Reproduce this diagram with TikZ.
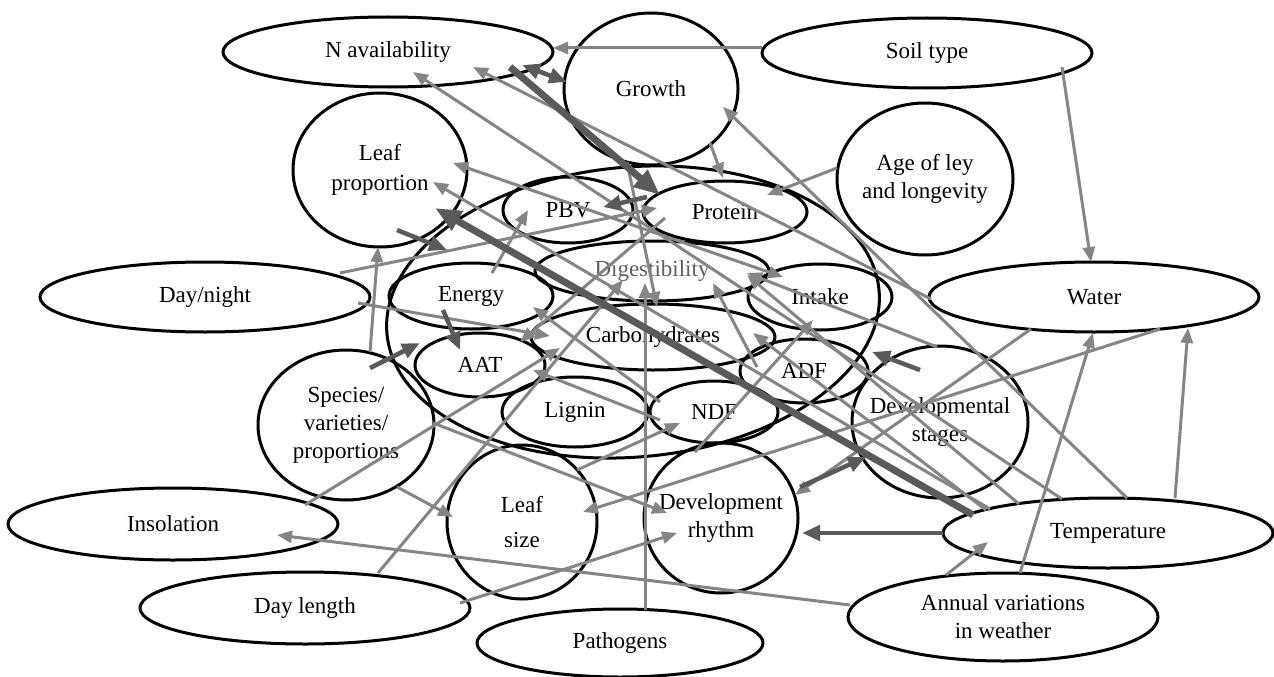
\documentclass[tikz,border=0pt]{standalone}
\usepackage{fontspec}
\setmainfont{Liberation Serif}
\usetikzlibrary{shapes.geometric,arrows.meta,calc}
\definecolor{lg}{RGB}{133,133,133}
\definecolor{dg}{RGB}{90,90,90}
\definecolor{tg}{RGB}{95,95,95}
\begin{document}
\begin{tikzpicture}[x=1pt,y=-1pt,
  el/.style={draw=black,line width=3pt,ellipse,inner sep=-20pt,align=center,font=\fontsize{23}{28}\selectfont},
  la/.style={draw=lg,line width=3pt,-{Triangle[length=15pt,width=12pt]}},
  lb/.style={draw=lg,line width=3pt,{Triangle[length=15pt,width=12pt]}-{Triangle[length=15pt,width=12pt]}},
  da/.style={draw=dg,line width=4.5pt,-{Triangle[length=18pt,width=15pt]}},
  db/.style={draw=dg,line width=4.5pt,{Triangle[length=18pt,width=15pt]}-{Triangle[length=18pt,width=15pt]}},
  ta/.style={draw=dg,line width=7pt,-{Triangle[length=26pt,width=21pt]}}
]
\useasboundingbox (0,0) rectangle (1274,677);
% outer nodes
\node[el,minimum width=330pt,minimum height=70pt] (N) at (388,52) {N availability};
\node[el,minimum width=330pt,minimum height=70pt] (soil) at (927,53) {Soil type};
\node[el,minimum width=174pt,minimum height=152pt] (growth) at (651,89) {\raisebox{-11pt}{Growth}};
\node[el,minimum width=174pt,minimum height=154pt] (lprop) at (380,170) {Leaf\\[2pt]proportion};
\node[el,minimum width=176pt,minimum height=152pt] (age) at (925,179) {Age of ley\\and longevity};
\node[el,minimum width=330pt,minimum height=70pt] (daynight) at (205,297) {Day/night};
\node[el,minimum width=330pt,minimum height=70pt] (water) at (1094,297) {Water};
\node[el,minimum width=176pt,minimum height=150pt] (species) at (346,425) {Species/\\varieties/\\proportions};
\node[el,minimum width=176pt,minimum height=152pt] (devst) at (940,422) {Developmental\\stages};
\node[el,minimum width=150pt,minimum height=154pt] (lsize) at (522,522) {Leaf\\[7pt]size};
\node[el,minimum width=154pt,minimum height=150pt] (devrh) at (721,518) {Development\\rhythm};
\node[el,minimum width=330pt,minimum height=72pt] (insol) at (173,524) {Insolation};
\node[el,minimum width=330pt,minimum height=70pt] (temp) at (1108,533) {Temperature};
\node[el,minimum width=330pt,minimum height=72pt] (dlen) at (305,608) {Day length};
\node[el,minimum width=286pt,minimum height=68pt] (path) at (620,643) {Pathogens};
\node[el,minimum width=310pt,minimum height=88pt] (annual) at (1003,617) {Annual variations\\in weather};
% big quality ellipse and inner nodes
\node[el,minimum width=494pt,minimum height=290pt,rotate=5] (big) at (633,312) {};
\node[el,minimum width=130pt,minimum height=66pt] (pbv) at (568,210) {PBV};
\node[el,minimum width=164pt,minimum height=62pt] (prot) at (725,212) {Protein};
\node[el,minimum width=234pt,minimum height=60pt,text=tg] (dig) at (652,271) {Digestibility};
\node[el,minimum width=164pt,minimum height=66pt] (energy) at (471,296) {Energy};
\node[el,minimum width=144pt,minimum height=66pt] (intake) at (820,297) {Intake};
\node[el,minimum width=244pt,minimum height=66pt] (carb) at (653,337) {Carbohydrates};
\node[el,minimum width=130pt,minimum height=64pt] (aat) at (480,365) {AAT};
\node[el,minimum width=128pt,minimum height=64pt] (adf) at (804,371) {ADF};
\node[el,minimum width=146pt,minimum height=70pt] (lignin) at (575,412) {Lignin};
\node[el,minimum width=128pt,minimum height=62pt] (ndf) at (714,412) {NDF};
% light connectors
\draw[la] ($(soil)+(-165,-5)$) -- ($(N)+(165,-4)$);
\draw[la] ($(soil)+(135,14)$) -- ($(water)+(-3,-35)$);
\draw[la] ($(age)+(-88,-11)$) -- ($(prot)+(42,-17)$);
\draw[la] ($(growth)+(59,54)$) -- ($(prot)+(-2,-34)$);
\draw[la] ($(temp)+(19,-35)$) -- ($(growth)+(72,18)$);
\draw[la] ($(water)+(-163,2)$) -- ($(N)+(85,15)$);
\draw[la] ($(temp)+(-46,-34)$) -- ($(N)+(25,20)$);
\draw[la] ($(species)+(24,-73)$) -- ($(lprop)+(-2,77)$);
\draw[la] ($(daynight)+(135,-24)$) -- ($(prot)+(-68,-4)$);
\draw[la] ($(daynight)+(153,6)$) -- ($(carb)+(-103,-1)$);
\draw[la] ($(energy)+(21,-23)$) -- ($(pbv)+(-40,0)$);
\draw[la] ($(prot)+(-60,6)$) -- ($(aat)+(40,-23)$);
\draw[la] ($(insol)+(132,-19)$) -- ($(carb)+(-93,11)$);
\draw[la] ($(dlen)+(73,-35)$) -- ($(dig)+(-29,9)$);
\draw[la] ($(path)+(25,-33)$) -- ($(dig)+(-7,12)$);
\draw[la] ($(growth)+(-24,73)$) -- ($(carb)+(4,-30)$);
\draw[la] ($(adf)+(-47,-4)$) -- ($(dig)+(61,12)$);
\draw[lb] ($(lprop)+(73,-7)$) -- ($(intake)+(-37,-20)$);
\draw[la] ($(devst)+(-3,-75)$) -- ($(dig)+(95,2)$);
\draw[la] ($(devrh)+(-26,-66)$) -- ($(intake)+(-7,23)$);
\draw[la] ($(lsize)+(55,-52)$) -- ($(ndf)+(-34,11)$);
\draw[la] ($(dlen)+(155,-5)$) -- ($(devrh)+(-44,15)$);
\draw[la] ($(annual)+(-153,-12)$) -- ($(insol)+(104,11)$);
\draw[la] ($(annual)+(-57,-42)$) -- ($(temp)+(-120,9)$);
\draw[la] ($(annual)+(17,-44)$) -- ($(water)+(-1,36)$);
\draw[la] ($(temp)+(67,-35)$) -- ($(water)+(94,31)$);
\draw[la] ($(water)+(-63,32)$) -- ($(devrh)+(74,-23)$);
\draw[la] ($(water)+(66,32)$) -- ($(lsize)+(61,-10)$);
\draw[la] ($(species)+(51,62)$) -- ($(lsize)+(-69,-5)$);
\draw[la] ($(species)+(87,-2)$) -- ($(devrh)+(-54,-5)$);
\draw[la] ($(ndf)+(-54,-10)$) -- ($(energy)+(62,11)$);
\draw[la] ($(ndf)+(-54,8)$) -- ($(aat)+(53,5)$);
\draw[la] ($(temp)+(-122,-23)$) -- ($(carb)+(100,-4)$);
\draw[la] ($(temp)+(-89,-29)$) -- ($(dig)+(95,4)$);
\draw[la] ($(temp)+(-118,-24)$) -- ($(lprop)+(53,12)$);
% dark connectors
\draw[db] ($(N)+(134,13)$) -- ($(growth)+(-84,-7)$);
\draw[ta] ($(N)+(122,15)$) -- ($(prot)+(-65,-17)$);
\draw[da] ($(lprop)+(17,60)$) -- ($(big)+(-186,-62)$);
\draw[da] ($(species)+(24,-57)$) -- ($(big)+(-213,31)$);
\draw[ta] ($(temp)+(-135,-18)$) -- ($(big)+(-198,-104)$);
\draw[da] ($(energy)+(-28,14)$) -- ($(aat)+(-20,-15)$);
\draw[da] ($(prot)+(-78,-15)$) -- ($(pbv)+(35,-3)$);
\draw[da] ($(devst)+(-20,-52)$) -- ($(big)+(239,40)$);
\draw[da] ($(temp)+(-165,0)$) -- ($(devrh)+(81,15)$);
\draw[da] ($(devrh)+(79,-31)$) -- ($(devst)+(-74,35)$);
\end{tikzpicture}
\end{document}
